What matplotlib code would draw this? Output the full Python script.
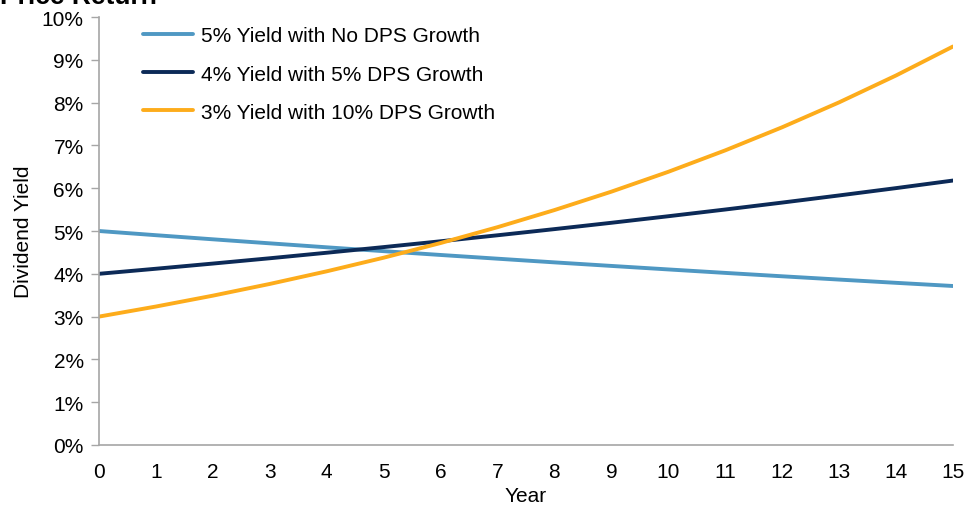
import matplotlib.pyplot as plt
from matplotlib.ticker import FuncFormatter

plt.rcParams['font.family'] = ['Liberation Sans', 'DejaVu Sans']

years = list(range(16))
no_growth = [5.000, 4.902, 4.806, 4.712, 4.619, 4.529, 4.440, 4.353,
             4.267, 4.184, 4.102, 4.021, 3.942, 3.865, 3.789, 3.715]
growth_5 = [4.000, 4.118, 4.239, 4.363, 4.492, 4.624, 4.760, 4.900,
            5.044, 5.192, 5.345, 5.502, 5.664, 5.831, 6.002, 6.179]
growth_10 = [3.000, 3.235, 3.489, 3.763, 4.058, 4.376, 4.719, 5.089,
             5.489, 5.919, 6.383, 6.884, 7.424, 8.006, 8.634, 9.311]
labels = ['5% Yield with No DPS Growth',
          '4% Yield with 5% DPS Growth',
          '3% Yield with 10% DPS Growth']
colors = ['#4F98C3', '#0C2A57', '#FDAC1B']

fig = plt.figure(figsize=(9.74, 5.06), dpi=100)
ax = fig.add_axes([0.1016, 0.1186, 0.8768, 0.8458])

for vals, lab, col in zip([no_growth, growth_5, growth_10], labels, colors):
    ax.plot(years, vals, color=col, linewidth=2.8, label=lab, solid_capstyle='round')

ax.set_xlim(0, 15)
ax.set_ylim(0, 10)
ax.set_xticks(years)
ax.set_yticks(range(0, 11))
ax.yaxis.set_major_formatter(FuncFormatter(lambda v, p: f'{int(v)}%'))
ax.tick_params(axis='y', labelsize=15, length=6, color='#A6A6A6', width=1, pad=5)
ax.tick_params(axis='x', labelsize=15, length=0, pad=12)
for s in ['top', 'right']:
    ax.spines[s].set_visible(False)
for s in ['left', 'bottom']:
    ax.spines[s].set_color('#A6A6A6')
    ax.spines[s].set_linewidth(1.2)
ax.set_xlabel('Year', fontsize=15, labelpad=4)
ax.set_ylabel('Dividend Yield', fontsize=15, labelpad=6)

ax.legend(loc='upper left', bbox_to_anchor=(0.0515, 0.978), frameon=False,
          borderpad=0, borderaxespad=0,
          fontsize=15, handlelength=2.4, handletextpad=0.4, labelspacing=0.92)

fig.text(0.0, 0.992, 'Price Return', fontsize=19, fontweight='bold', va='baseline', ha='left')

fig.savefig('out.png', dpi=100)
